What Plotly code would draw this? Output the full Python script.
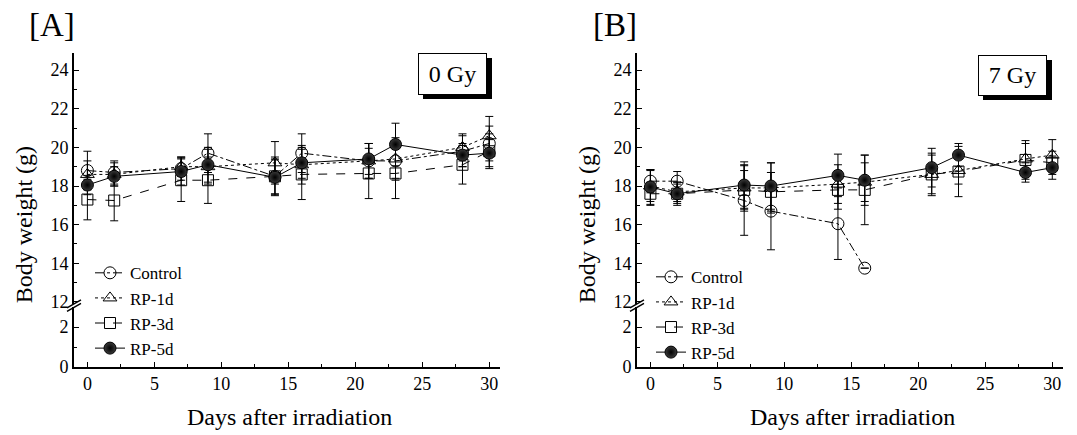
import plotly.graph_objects as go

W, H = 1077, 435

days = [0, 2, 7, 9, 14, 16, 21, 23, 28, 30]
series_names = ["Control", "RP-1d", "RP-3d", "RP-5d"]

# Panel A (0 Gy)
a_control = [18.8, 18.7, 18.9, 19.7, 18.5, 19.7, 19.3, 19.3, 19.8, 20.2]
a_control_sd = [1.0, 0.6, 0.6, 1.0, 0.9, 1.0, 0.9, 0.9, 0.8, 0.9]
a_rp1 = [18.6, 18.6, 19.0, 19.0, 19.2, 19.1, 19.3, 19.4, 20.0, 20.6]
a_rp1_sd = [0.7, 0.6, 0.5, 0.9, 1.1, 1.0, 0.9, 1.1, 0.7, 1.0]
a_rp3 = [17.3, 17.25, 18.3, 18.3, 18.5, 18.6, 18.65, 18.65, 19.1, 19.8]
a_rp3_sd = [1.05, 1.05, 1.1, 1.2, 1.0, 1.3, 1.3, 1.3, 1.0, 0.9]
a_rp5 = [18.05, 18.5, 18.75, 19.1, 18.45, 19.2, 19.4, 20.15, 19.6, 19.7]
a_rp5_sd = [0.5, 0.5, 0.7, 0.9, 0.9, 0.8, 0.8, 1.1, 0.6, 0.7]

# Panel B (7 Gy)
b_control = [18.25, 18.25, 17.25, 16.7, 16.05, 13.75]
b_control_sd = [0.6, 0.5, 1.8, 2.0, 1.85, 0.0]
b_rp1 = [18.0, 17.7, 17.9, 17.9, 18.1, 18.2, 18.6, 18.8, 19.4, 19.6]
b_rp1_sd = [0.8, 0.5, 1.2, 1.3, 1.0, 1.0, 1.0, 0.7, 0.8, 0.8]
b_rp3 = [17.6, 17.6, 17.8, 17.7, 17.8, 17.8, 18.6, 18.75, 19.35, 19.2]
b_rp3_sd = [0.6, 0.5, 1.0, 1.0, 1.0, 1.8, 1.1, 1.3, 1.0, 0.6]
b_rp5 = [17.95, 17.6, 18.05, 18.0, 18.55, 18.3, 18.95, 19.6, 18.7, 18.95]
b_rp5_sd = [0.9, 0.6, 1.2, 1.2, 1.1, 1.3, 1.0, 0.6, 0.5, 0.6]

FONT = "Liberation Serif"

styles = [
    dict(symbol="circle-open", dash="dashdot", size=12, color="black"),
    dict(symbol="triangle-up-open", dash="dot", size=12, color="black"),
    dict(symbol="square-open", dash="dash", size=11, color="black"),
    dict(symbol="circle", dash="solid", size=12, color="#3a3a3a"),
]

fig = go.Figure()

def add_panel(data, xa, ya, ya_low, legend):
    # empty trace so the lower (broken) axis segment is drawn
    fig.add_trace(go.Scatter(x=[], y=[], xaxis=xa, yaxis=ya_low, showlegend=False,
                             hoverinfo="skip", mode="markers"))
    for i, (name, (vals, sd)) in enumerate(zip(series_names, data)):
        st = styles[i]
        marker = dict(symbol=st["symbol"], size=st["size"], color=st["color"],
                      line=dict(color="black", width=1))
        if st["symbol"] == "circle":
            marker["gradient"] = dict(type="radial", color="black")
        fig.add_trace(go.Scatter(
            x=days[:len(vals)], y=vals, name=name, mode="lines+markers",
            xaxis=xa, yaxis=ya, legend=legend, legendgroup=legend + name,
            line=dict(color="black", width=1, dash=st["dash"]),
            marker=marker,
            error_y=dict(type="data", array=sd, color="black", thickness=1, width=4),
        ))

add_panel([(a_control, a_control_sd), (a_rp1, a_rp1_sd), (a_rp3, a_rp3_sd), (a_rp5, a_rp5_sd)],
          "x", "y", "y2", "legend")
add_panel([(b_control, b_control_sd), (b_rp1, b_rp1_sd), (b_rp3, b_rp3_sd), (b_rp5, b_rp5_sd)],
          "x2", "y3", "y4", "legend2")

S = 0.976  # observed vertical compression of the capture

def py(p):
    return 1 - (p / S) / H

def px(p):
    return p / W

upper_dom = [py(303.6), py(52.6)]
lower_dom = [py(366.5), py(307)]

tickfont = dict(family=FONT, size=18, color="black")
common_x = dict(range=[-1, 30.8], showline=True, linecolor="black", linewidth=1.6,
                ticks="inside", ticklen=5, tickwidth=1.4, tickcolor="black",
                tickvals=[0, 5, 10, 15, 20, 25, 30], tickfont=tickfont,
                showgrid=False, zeroline=False,
                minor=dict(dtick=2.5, tick0=0, ticks="inside", ticklen=3, tickcolor="black", tickwidth=1.2, showgrid=False))
common_yu = dict(range=[11.9, 24.9], domain=upper_dom, showline=True, linecolor="black", linewidth=1.6,
                 ticks="inside", ticklen=5, tickwidth=1.4, tickcolor="black",
                 tickvals=[12, 14, 16, 18, 20, 22, 24], tickfont=tickfont,
                 showgrid=False, zeroline=False,
                 minor=dict(tickvals=[13, 15, 17, 19, 21, 23], ticks="inside", ticklen=3, tickcolor="black", tickwidth=1.2, showgrid=False))
common_yl = dict(range=[0, 3], domain=lower_dom, showline=True, linecolor="black", linewidth=1.6,
                 ticks="inside", ticklen=5, tickwidth=1.4, tickcolor="black",
                 tickvals=[0, 2], tickfont=tickfont, showgrid=False, zeroline=False,
                 minor=dict(tickvals=[1], ticks="inside", ticklen=3, tickcolor="black", tickwidth=1.2, showgrid=False))

ax_left = {"A": 74, "B": 637}
ax_right = {"A": 500, "B": 1063}

legfont = dict(family=FONT, size=17, color="black")
fig.update_layout(
    width=W, height=H,
    margin=dict(l=0, r=0, t=0, b=0),
    paper_bgcolor="white", plot_bgcolor="white",
    font=dict(family=FONT, color="black"),
    xaxis=dict(domain=[px(74), px(500)], anchor="y2", **common_x),
    xaxis2=dict(domain=[px(637), px(1063)], anchor="y4", **common_x),
    yaxis=dict(anchor="x", **common_yu),
    yaxis2=dict(anchor="x", **common_yl),
    yaxis3=dict(anchor="x2", **common_yu),
    yaxis4=dict(anchor="x2", **common_yl),
    legend=dict(x=px(90), y=py(255), xanchor="left", yanchor="top",
                bgcolor="rgba(0,0,0,0)", font=legfont, tracegroupgap=0, itemwidth=30),
    legend2=dict(x=px(651), y=py(259), xanchor="left", yanchor="top",
                 bgcolor="rgba(0,0,0,0)", font=legfont, tracegroupgap=0, itemwidth=30),
    showlegend=True,
)

shapes = []
annotations = []
for key, label, dose, box in [("A", "[A]", "0 Gy", (418, 53, 487, 94)),
                              ("B", "[B]", "7 Gy", (978, 55, 1047, 95))]:
    xl = ax_left[key]
    # axis break marks
    for dy in (0, 3.5):
        shapes.append(dict(type="line", xref="paper", yref="paper",
                           x0=px(xl - 7), y0=py(307.5 + dy), x1=px(xl + 7), y1=py(299.5 + dy),
                           line=dict(color="black", width=1.4)))
    # shadow box
    x0, y0, x1, y1 = box
    shapes.append(dict(type="rect", xref="paper", yref="paper",
                       x0=px(x0 + 5), y0=py(y1 + 5), x1=px(x1 + 5), y1=py(y0 + 5),
                       fillcolor="black", line=dict(width=0), layer="above"))
    annotations.append(dict(xref="paper", yref="paper", x=px((x0 + x1) / 2), y=py((y0 + y1) / 2),
                            text=dose, showarrow=False, width=x1 - x0 - 2, height=(y1 - y0) / S - 2,
                            bgcolor="white", bordercolor="black", borderwidth=1, borderpad=0,
                            font=dict(family=FONT, size=24, color="black"),
                            xanchor="center", yanchor="middle"))
    # panel label
    annotations.append(dict(xref="paper", yref="paper", x=px(xl - 22), y=py(25), text=label,
                            showarrow=False, font=dict(family=FONT, size=33, color="black"),
                            xanchor="center", yanchor="middle"))
    # axis titles
    annotations.append(dict(xref="paper", yref="paper", x=px(xl - 50), y=py(225),
                            text="Body weight (g)", textangle=-90, showarrow=False,
                            font=dict(family=FONT, size=24, color="black"),
                            xanchor="center", yanchor="middle"))
    annotations.append(dict(xref="paper", yref="paper", x=px((xl + ax_right[key]) / 2 + 2), y=py(417),
                            text="Days after irradiation", showarrow=False,
                            font=dict(family=FONT, size=24, color="black"),
                            xanchor="center", yanchor="middle"))

fig.update_layout(shapes=shapes, annotations=annotations)

post = ("document.body.style.margin='0';document.body.style.padding='0';")
fig.write_html("out.html", post_script=post, config={"displayModeBar": False})
